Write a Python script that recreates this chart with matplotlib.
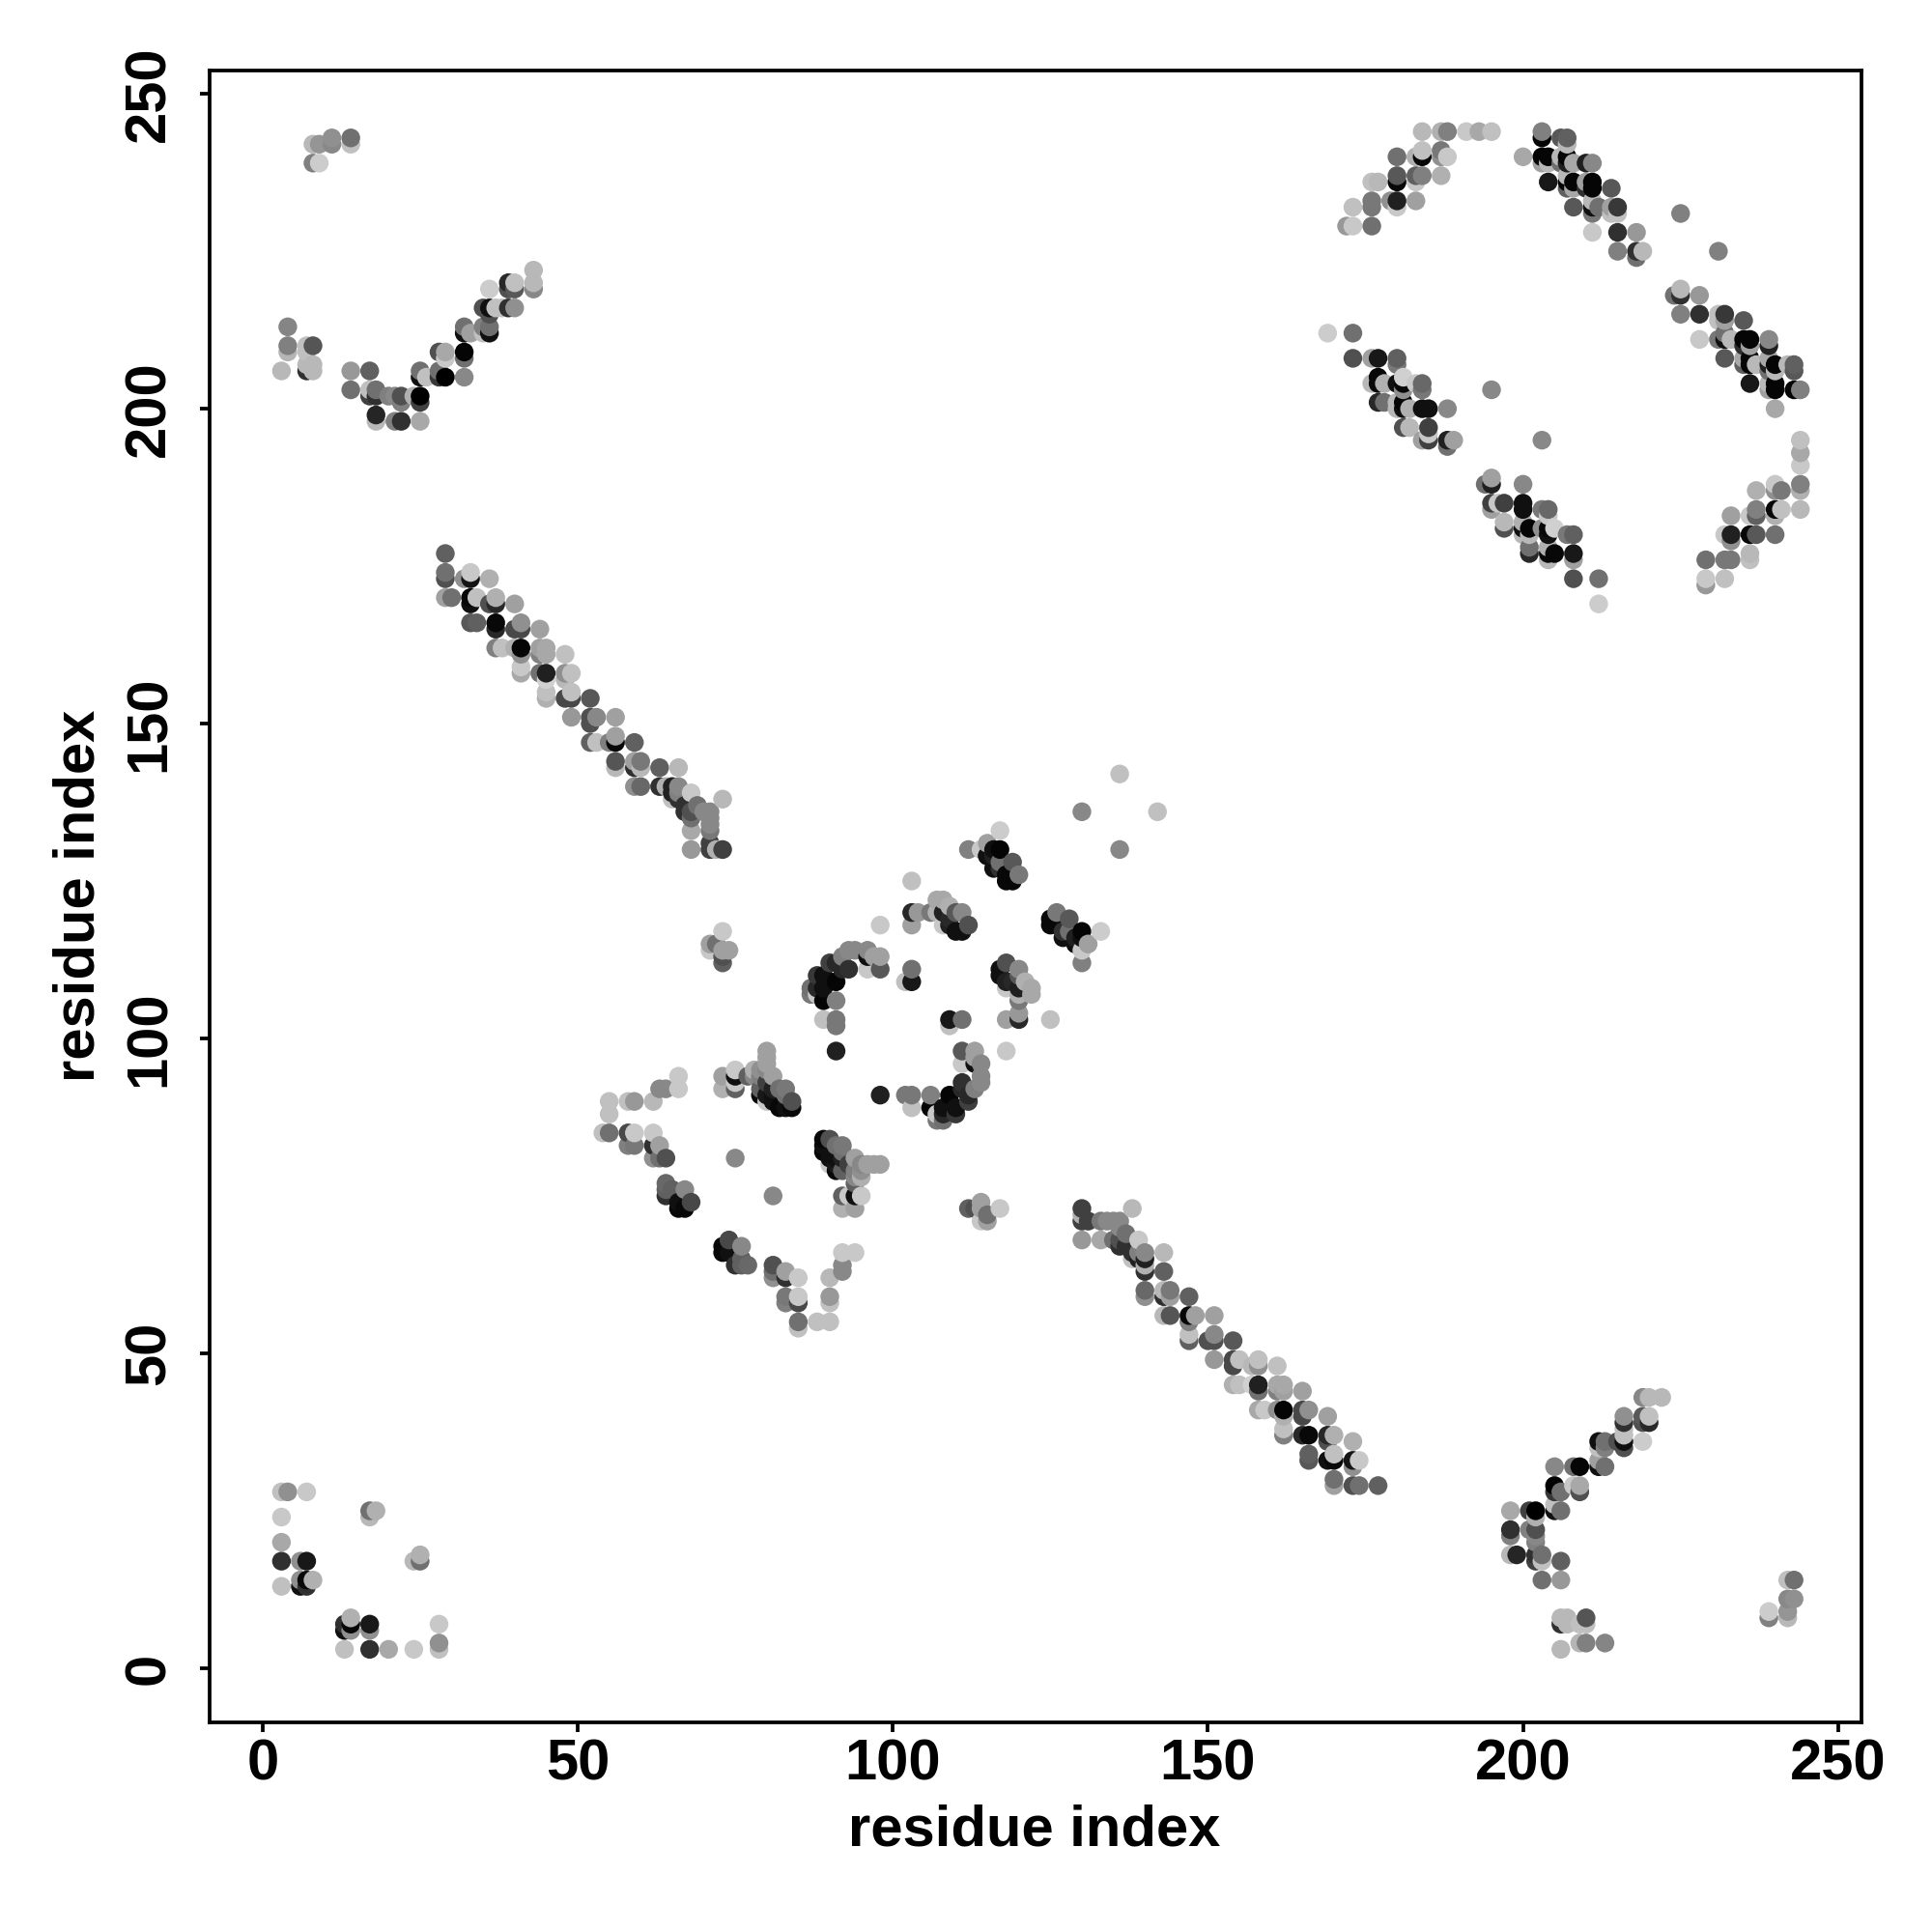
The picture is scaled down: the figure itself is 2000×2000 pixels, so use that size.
# contact map - every contact is (residue i, residue j, gray level 0-255), i < j
# the map is symmetric so the other half comes from swapping i and j

import numpy as np
import matplotlib
matplotlib.use("Agg")
import matplotlib.pyplot as plt

plt.rcParams["font.family"] = ["Liberation Sans", "DejaVu Sans"]
plt.rcParams["font.weight"] = "bold"

tick_values = [0, 50, 100, 150, 200, 250]
tick_labels = ["0", "50", "100", "150", "200", "250"]
axis_label = "residue index"

corner_low = [
    (3, 28, 0xc0), (4, 28, 0x90), (7, 28, 0xc8), (3, 24, 0xc8), (3, 20, 0xa8), (3, 17, 0x30),
    (6, 17, 0x90), (7, 17, 0x18), (3, 13, 0xc0), (6, 14, 0x90), (6, 13, 0x10), (7, 14, 0x08),
    (7, 13, 0x30), (8, 14, 0xb0), (17, 25, 0x70), (18, 25, 0xb0), (17, 24, 0xb8),
]

corner_high = [
    (8, 242, 0xb8), (9, 242, 0x95), (8, 239, 0x80), (9, 239, 0xcc), (11, 243, 0x90), (11, 242, 0x88),
    (14, 243, 0x70), (14, 242, 0xc0),
]

left_arm = [
    (4, 213, 0x85), (4, 210, 0x80), (4, 209, 0xb5), (3, 206, 0xb8), (7, 210, 0xc0), (8, 210, 0x55),
    (7, 209, 0xc0), (7, 206, 0x30), (8, 207, 0xb8), (8, 206, 0xb8), (7, 207, 0xb8), (14, 206, 0x98),
    (17, 206, 0x60), (14, 203, 0x70), (17, 203, 0xc0), (17, 202, 0x40), (18, 202, 0x30), (18, 203, 0x70),
    (18, 199, 0x25), (18, 198, 0xb8), (20, 202, 0x80), (21, 202, 0x88), (22, 202, 0x50), (22, 201, 0x80),
    (21, 198, 0x80), (22, 198, 0x30), (24, 202, 0xb0), (25, 202, 0x00), (25, 201, 0x40), (25, 198, 0xa8),
    (25, 206, 0x70), (25, 205, 0x10), (26, 205, 0xc0), (28, 209, 0x50), (29, 209, 0xa8), (29, 208, 0xc8),
    (28, 206, 0x70), (28, 205, 0x38), (29, 205, 0x00), (32, 209, 0x05), (32, 208, 0x70), (32, 205, 0x88),
    (32, 213, 0x70), (32, 212, 0x10), (33, 212, 0xa0), (35, 213, 0x80), (36, 213, 0x70), (36, 212, 0x10),
    (35, 212, 0xc0), (35, 216, 0x50), (36, 216, 0x10), (36, 215, 0x50), (37, 216, 0xc0), (36, 219, 0xcc),
    (39, 220, 0x28), (39, 219, 0x50), (40, 220, 0xc0), (40, 219, 0x58), (39, 216, 0x30), (38, 216, 0xc0),
    (40, 216, 0x90), (43, 222, 0xb8), (43, 220, 0xb8), (43, 219, 0x88),
]

long_strand = [
    (29, 177, 0x60), (29, 174, 0x70), (29, 173, 0x50), (32, 173, 0x90), (33, 174, 0xc8), (33, 173, 0x15),
    (36, 173, 0xb0), (29, 170, 0xa0), (30, 170, 0x70), (33, 170, 0x08), (33, 169, 0x10), (34, 170, 0xc0),
    (36, 169, 0x50), (37, 169, 0x28), (37, 170, 0xb0), (40, 169, 0xa0), (33, 166, 0x58), (34, 166, 0x60),
    (37, 166, 0x08), (37, 165, 0x28), (40, 165, 0x48), (41, 165, 0x48), (41, 166, 0x90), (44, 165, 0xa0),
    (37, 162, 0x80), (38, 162, 0xc0), (40, 162, 0xb0), (41, 162, 0x05), (41, 161, 0x90), (41, 159, 0xc8),
    (41, 158, 0xa8), (44, 162, 0xa0), (44, 161, 0x80), (45, 162, 0xa8), (45, 161, 0xa8), (48, 161, 0xc0),
    (44, 158, 0x70), (45, 158, 0x20), (45, 157, 0xd0), (45, 155, 0xc0), (45, 154, 0xb0), (48, 158, 0x90),
    (49, 158, 0xc0), (48, 157, 0xb8), (48, 154, 0x48), (49, 154, 0x48), (49, 155, 0xc0), (52, 154, 0x58),
    (49, 151, 0x98), (52, 151, 0x50), (52, 150, 0x50), (53, 151, 0x88), (56, 151, 0xa0), (52, 147, 0x60),
    (53, 147, 0xc0), (55, 147, 0x80), (56, 147, 0x08), (56, 148, 0xa0), (59, 147, 0x60), (56, 144, 0x55),
    (56, 143, 0xb8), (59, 143, 0x30), (59, 144, 0xa0), (60, 144, 0x78), (60, 143, 0xb8), (63, 143, 0x60),
    (66, 143, 0xb8), (59, 140, 0x90), (60, 140, 0x68), (63, 140, 0x30), (64, 140, 0xb0), (65, 140, 0x20),
    (66, 140, 0x88), (65, 139, 0x20), (66, 139, 0x80), (65, 138, 0xc0), (66, 138, 0x30), (67, 137, 0x30),
    (68, 139, 0xc8), (69, 137, 0x70), (73, 138, 0xb8), (67, 136, 0x30), (68, 136, 0x50), (68, 135, 0x70),
    (68, 133, 0xa8), (71, 136, 0x88), (71, 135, 0x88), (71, 134, 0x88), (71, 133, 0x78), (70, 136, 0x88),
    (68, 130, 0x98), (71, 130, 0x40), (72, 130, 0xb0), (73, 130, 0x40), (71, 131, 0x40),
]

small_patch = [
    (73, 117, 0xc8), (71, 115, 0xa0), (71, 114, 0xc8), (72, 115, 0x70), (73, 114, 0xa0), (74, 114, 0xa0),
    (73, 113, 0x50), (73, 112, 0x60),
]

hairpin = [
    (66, 94, 0xc8), (66, 92, 0xc8), (63, 92, 0x88), (64, 92, 0x88), (55, 90, 0xc0), (55, 88, 0xc0),
    (58, 90, 0xc0), (59, 90, 0x98), (62, 90, 0xb8), (54, 85, 0xc0), (55, 85, 0x70), (58, 85, 0x48),
    (59, 85, 0xc8), (62, 85, 0xc8), (58, 83, 0x80), (59, 83, 0x78), (62, 83, 0x30), (63, 83, 0xa0),
    (62, 81, 0x90), (63, 81, 0x70), (64, 81, 0x50), (64, 77, 0x68), (64, 76, 0x60), (64, 75, 0x30),
    (65, 76, 0x60), (67, 76, 0x88), (66, 74, 0x10), (66, 73, 0x08), (67, 73, 0x08), (68, 74, 0x48),
    (75, 81, 0x88),
]

inner_strand = [
    (84, 89, 0x08), (82, 89, 0x08), (83, 89, 0x10), (84, 90, 0x50), (83, 91, 0x70), (83, 92, 0x78),
    (82, 92, 0x70), (80, 91, 0x18), (81, 91, 0x10), (81, 90, 0x10), (80, 90, 0xc8), (81, 92, 0x20),
    (79, 92, 0x60), (79, 91, 0x08), (80, 93, 0x40), (81, 94, 0xa0), (80, 95, 0x88), (79, 95, 0x90),
    (80, 96, 0xa0), (80, 97, 0xa0), (80, 98, 0xa0), (79, 94, 0x80), (78, 94, 0x88), (78, 95, 0xb0),
    (77, 94, 0x60), (75, 92, 0x60), (75, 93, 0xc8), (75, 94, 0x10), (75, 95, 0xc8), (73, 92, 0xb0),
    (73, 94, 0xa0),
]

center_arc = [
    (87, 108, 0x70), (87, 107, 0x78), (88, 110, 0x38), (88, 108, 0x28), (88, 107, 0xc8), (89, 110, 0x10),
    (89, 108, 0x10), (89, 106, 0x05), (90, 112, 0x40), (90, 109, 0x10), (91, 109, 0x05), (91, 106, 0x80),
    (91, 112, 0x28), (92, 113, 0x80), (92, 111, 0x28), (93, 114, 0x88), (93, 111, 0x30), (94, 114, 0x88),
    (96, 114, 0x88), (96, 113, 0x10), (96, 111, 0xc8), (97, 113, 0xa0), (98, 113, 0xa0), (98, 111, 0x58),
    (89, 103, 0xc0), (91, 103, 0x78), (91, 102, 0x78), (91, 98, 0x20), (103, 111, 0x70), (103, 109, 0x18),
    (102, 109, 0xc0), (98, 118, 0xc8),
]

upper_center = [
    (103, 125, 0xc0), (103, 120, 0x28), (104, 120, 0x98), (106, 120, 0x78), (103, 118, 0xa0), (107, 122, 0xa8),
    (108, 122, 0xa8), (109, 121, 0xb0), (107, 120, 0xb0), (108, 120, 0x20), (109, 119, 0x28), (110, 120, 0x58),
    (111, 120, 0x88), (108, 118, 0xc8), (110, 117, 0x10), (111, 117, 0x10), (112, 118, 0x50), (109, 118, 0x20),
    (117, 133, 0xcc), (112, 130, 0x80), (114, 130, 0xc8), (115, 131, 0xa0), (116, 130, 0x10), (117, 130, 0x05),
    (115, 129, 0x20), (116, 129, 0x20), (116, 127, 0x10), (117, 128, 0x70), (119, 128, 0x58), (118, 126, 0x08),
    (119, 125, 0x08), (118, 125, 0x08), (120, 126, 0x78), (117, 127, 0x30), (115, 129, 0x10),
    (130, 136, 0x88), (136, 142, 0xc0),
]

top_arc = [
    (172, 229, 0x98), (173, 229, 0xc8), (176, 229, 0x70), (173, 232, 0xc0), (176, 233, 0x78), (176, 232, 0x78),
    (179, 233, 0x90), (180, 233, 0x20), (180, 232, 0xc8), (183, 233, 0xa0), (176, 236, 0xc0), (177, 236, 0xb8),
    (180, 237, 0x58), (180, 236, 0x08), (183, 237, 0x60), (184, 237, 0x80), (183, 236, 0xc8), (187, 237, 0xb0),
    (180, 240, 0x70), (183, 240, 0xb0), (184, 240, 0x08), (184, 241, 0xc0), (187, 241, 0x78), (187, 240, 0x90),
    (188, 240, 0xc8), (184, 244, 0xb8), (187, 244, 0xb0), (188, 244, 0x80), (191, 244, 0xc8), (193, 244, 0xa8),
    (195, 244, 0xc0),
]

right_arc = [
    (218, 224, 0x70), (218, 225, 0x30), (219, 225, 0xb8), (218, 228, 0x98), (215, 225, 0x80), (215, 228, 0x30),
    (215, 231, 0xc0), (214, 231, 0xc0), (215, 232, 0x38), (214, 232, 0xa0), (214, 235, 0x58), (211, 228, 0xc8),
    (211, 231, 0x78), (211, 232, 0x10), (212, 232, 0x70), (211, 233, 0xb8), (211, 235, 0x05), (210, 235, 0x30),
    (211, 236, 0x05), (210, 236, 0xa0), (211, 239, 0x88), (210, 239, 0x20), (208, 232, 0x58), (208, 235, 0xa8),
    (207, 235, 0x60), (208, 236, 0x05), (207, 236, 0x05), (207, 237, 0xb8), (208, 239, 0xa8), (207, 239, 0x20),
    (206, 239, 0x70), (207, 240, 0x05), (206, 240, 0xb8), (207, 242, 0xb8), (207, 243, 0x60), (206, 243, 0x58),
    (204, 236, 0x18), (204, 239, 0xb8), (203, 239, 0xa0), (204, 240, 0x05), (203, 240, 0x05), (203, 243, 0x05),
    (203, 244, 0x80), (200, 240, 0xa8), (225, 231, 0x80),
]

inner_band = [
    (169, 212, 0xcc), (173, 212, 0x70), (173, 208, 0x50), (176, 208, 0xa0), (177, 208, 0x18), (180, 208, 0x60),
    (180, 207, 0x78), (177, 205, 0x08), (176, 204, 0xb8), (177, 204, 0x08), (178, 204, 0xb0), (180, 204, 0x10),
    (181, 205, 0xd0), (181, 204, 0x08), (181, 203, 0x90), (183, 204, 0xc8), (184, 204, 0x68), (184, 203, 0x78),
    (177, 201, 0x28), (178, 201, 0x70), (180, 201, 0xb8), (180, 200, 0xb8), (181, 201, 0x05), (181, 200, 0x10),
    (182, 200, 0xb0), (184, 200, 0x10), (185, 200, 0x10), (188, 200, 0x88), (181, 197, 0x50), (182, 197, 0xb8),
    (185, 197, 0x40), (185, 196, 0xc8), (184, 195, 0xa0), (185, 195, 0x40), (188, 195, 0x20), (188, 194, 0x70),
    (189, 195, 0xa0), (195, 203, 0x88),
]

blocks = [corner_low, corner_high, left_arm, long_strand, small_patch, hairpin, inner_strand,
          center_arc, upper_center, top_arc, right_arc, inner_band]

contacts = np.array([c for block in blocks for c in block], float)
x = np.concatenate([contacts[:, 0], contacts[:, 1]])
y = np.concatenate([contacts[:, 1], contacts[:, 0]])
gray = np.concatenate([contacts[:, 2], contacts[:, 2]]) / 255

# the original plots in residue order, later points land on top
order = np.lexsort((y, x))
colors = [(g, g, g) for g in gray[order]]

fig = plt.figure(figsize=(20, 20), dpi=100)
ax = fig.add_axes([217 / 2000, 217 / 2000, 1710 / 2000, 1710 / 2000])
ax.scatter(x[order], y[order], s=195, c=colors, linewidths=0, zorder=3)

ax.set_xlim(-8.4, 253.7)
ax.set_ylim(-8.6, 253.7)
ax.set_xticks(tick_values, tick_labels)
ax.set_yticks(tick_values, tick_labels, rotation=90, va="center")
ax.tick_params(length=7, width=2.7, labelsize=43)
ax.tick_params(axis="x", pad=5)
ax.tick_params(axis="y", pad=18)
for side in ax.spines.values():
    side.set_linewidth(2.7)

fig.text(1071 / 2000, 1 - 1895 / 2000, axis_label, ha="center", va="center", fontsize=43, fontweight="bold")
fig.text(82 / 2000, 1 - 927 / 2000, axis_label, ha="center", va="center", rotation=90, fontsize=43, fontweight="bold")

fig.savefig("out.png", dpi=100)
